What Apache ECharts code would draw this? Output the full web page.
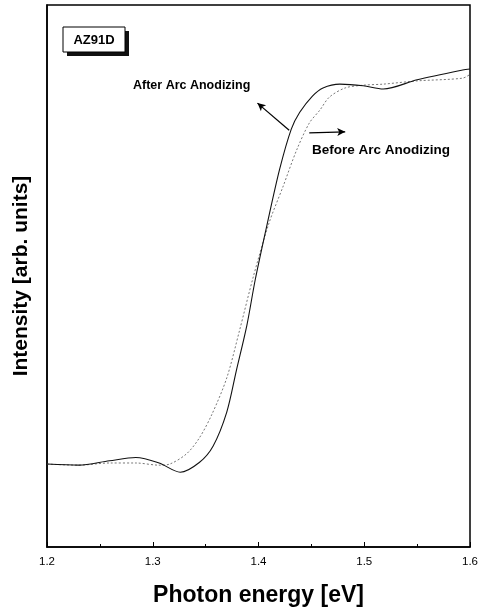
<!DOCTYPE html>
<html>
<head>
<meta charset="utf-8">
<script src="https://cdn.jsdelivr.net/npm/echarts@6/dist/echarts.min.js"></script>
<style>
  html, body { margin: 0; padding: 0; background: #fff; }
  #chart { width: 479px; height: 610px; }
</style>
</head>
<body>
<div id="chart"></div>
<script>
// photon energy [eV] and intensity for each curve
var energyAfter = [1.2, 1.23, 1.259, 1.284, 1.306, 1.326, 1.344, 1.357, 1.37, 1.379, 1.389, 1.397, 1.408, 1.42, 1.431, 1.439, 1.451, 1.461, 1.477, 1.499, 1.518, 1.55, 1.593, 1.6];
var intensityAfter = [15.3, 15.1, 15.9, 16.5, 15.5, 13.8, 15.6, 18.6, 24.9, 32.5, 40.9, 49.4, 59.4, 69.7, 77.1, 80.2, 83.2, 84.7, 85.4, 85.1, 84.5, 86.2, 88.0, 88.2];

var energyBefore = [1.2, 1.23, 1.259, 1.284, 1.306, 1.316, 1.332, 1.344, 1.356, 1.37, 1.382, 1.395, 1.41, 1.423, 1.436, 1.448, 1.458, 1.467, 1.482, 1.499, 1.518, 1.55, 1.593, 1.6];
var intensityBefore = [15.3, 15.1, 15.5, 15.5, 15.1, 15.3, 17.2, 20.1, 24.5, 31.2, 39.9, 49.8, 59.8, 66.4, 73.2, 78.2, 80.6, 83.0, 84.7, 85.2, 85.4, 86.0, 86.5, 87.2];

var xTicks = ['1.2', '1.3', '1.4', '1.5', '1.6'];

// arrows: [from, to] in data space
var arrowAfter = [[1.429, 76.9], [1.399, 81.9]];
var arrowBefore = [[1.448, 76.4], [1.482, 76.6]];

function pairs(xs, ys) {
  var out = [];
  for (var i = 0; i < xs.length; i++) out.push([xs[i], ys[i]]);
  return out;
}

var chart = echarts.init(document.getElementById('chart'));

var option = {
  backgroundColor: '#fff',
  animation: false,
  grid: {
    left: 47, right: 9, top: 5, bottom: 63,
    outerBoundsMode: 'none',
    containLabel: false,
    show: true, borderColor: '#000', borderWidth: 1.5
  },
  xAxis: {
    type: 'value',
    min: 1.2, max: 1.6, interval: 0.1,
    name: 'Photon energy [eV]',
    nameLocation: 'middle',
    nameGap: 37,
    nameTextStyle: { fontFamily: 'Liberation Sans', fontWeight: 'bold', fontSize: 23, color: '#000' },
    axisLine: { lineStyle: { color: '#000', width: 1.5 } },
    axisTick: { inside: true, length: 5, lineStyle: { color: '#000' } },
    minorTick: { show: true, splitNumber: 2, length: 3, lineStyle: { color: '#000' } },
    splitLine: { show: false },
    axisLabel: {
      color: '#000', fontFamily: 'Liberation Sans', fontSize: 11.5, margin: 9,
      formatter: function (v) {
        var s = v.toFixed(1);
        return xTicks.indexOf(s) >= 0 ? s : '';
      }
    }
  },
  yAxis: {
    type: 'value',
    min: 0, max: 100,
    name: 'Intensity [arb. units]',
    nameLocation: 'middle',
    nameGap: 15,
    nameTextStyle: { fontFamily: 'Liberation Sans', fontWeight: 'bold', fontSize: 21, color: '#000' },
    axisLine: { show: true, lineStyle: { color: '#000', width: 1.5 } },
    axisTick: { show: false },
    axisLabel: { show: false },
    splitLine: { show: false }
  },
  graphic: [
    // AZ91D label with drop shadow
    { type: 'rect', shape: { x: 67, y: 31, width: 62, height: 25 }, style: { fill: '#111' }, z: 100 },
    { type: 'rect', shape: { x: 63, y: 27, width: 62, height: 25 }, style: { fill: '#fff', stroke: '#000', lineWidth: 1 }, z: 101 },
    { type: 'text', x: 94, y: 40, z: 102,
      style: { text: 'AZ91D', fill: '#000', font: 'bold 13px "Liberation Sans"', textAlign: 'center', textVerticalAlign: 'middle' } },
    { type: 'text', x: 133, y: 86, z: 102,
      style: { text: 'After Arc Anodizing', fill: '#000', font: 'bold 12.5px "Liberation Sans"', textVerticalAlign: 'middle' } },
    { type: 'text', x: 312, y: 150, z: 102,
      style: { text: 'Before Arc Anodizing', fill: '#000', font: 'bold 13.5px "Liberation Sans"', textVerticalAlign: 'middle' } }
  ],
  series: [
    {
      name: 'Before Arc Anodizing',
      type: 'line',
      data: pairs(energyBefore, intensityBefore),
      smooth: 0.3,
      showSymbol: false,
      lineStyle: { color: '#777', width: 1, type: [2, 2] }
    },
    {
      name: 'After Arc Anodizing',
      type: 'line',
      data: pairs(energyAfter, intensityAfter),
      smooth: 0.3,
      showSymbol: false,
      lineStyle: { color: '#111', width: 1.1 },
      markLine: {
        silent: true,
        symbol: ['none', 'arrow'],
        symbolSize: [6, 8],
        label: { show: false },
        lineStyle: { color: '#000', width: 1.2, type: 'solid' },
        data: [
          [{ coord: arrowAfter[0] }, { coord: arrowAfter[1] }],
          [{ coord: arrowBefore[0] }, { coord: arrowBefore[1] }]
        ]
      }
    }
  ]
};

chart.setOption(option);
</script>
</body>
</html>
